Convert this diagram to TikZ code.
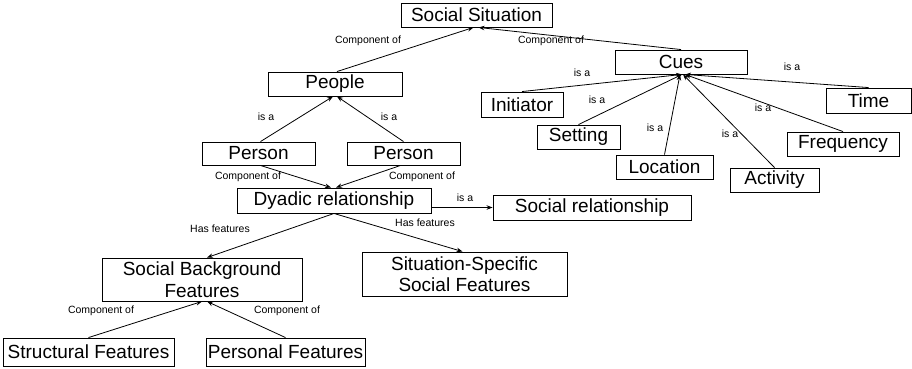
\documentclass[tikz,border=0pt]{standalone}
\usepackage{fontspec}
\setmainfont{Liberation Sans}
\usetikzlibrary{arrows.meta,calc}
\begin{document}
\begin{tikzpicture}[x=1pt,y=-1pt,
  box/.style={draw,line width=0.9pt,inner sep=0pt,align=center,
    font=\fontsize{19}{21.5}\selectfont},
  lbl/.style={inner sep=0pt,font=\fontsize{10.5}{12}\selectfont},
  arr/.style={line width=0.8pt,-{Stealth[length=6pt,width=4.5pt]}}]
\useasboundingbox (0,0) rectangle (912,368);
% nodes
\node[box,minimum width=151pt,minimum height=24pt] (ss) at (476.5,15) {Social Situation};
\node[box,minimum width=134pt,minimum height=24pt] (people) at (335,84) {People};
\node[box,minimum width=132pt,minimum height=24pt] (cues) at (681,62) {Cues};
\node[box,minimum width=82pt,minimum height=25pt] (init) at (522,104.5) {Initiator};
\node[box,minimum width=83pt,minimum height=24pt] (setting) at (578.5,137) {Setting};
\node[box,minimum width=97pt,minimum height=24pt] (location) at (664.5,167) {Location};
\node[box,minimum width=89pt,minimum height=24pt] (activity) at (774.5,180) {Activity};
\node[box,minimum width=112pt,minimum height=24pt] (freq) at (843,144) {Frequency};
\node[box,minimum width=85pt,minimum height=25pt] (time) at (868.5,100.5) {Time};
\node[box,minimum width=113pt,minimum height=23pt] (p1) at (258.5,153.5) {Person};
\node[box,minimum width=113pt,minimum height=23pt] (p2) at (403.5,153.5) {Person};
\node[box,minimum width=194pt,minimum height=25pt] (dyad) at (334,200.5) {Dyadic relationship};
\node[box,minimum width=198pt,minimum height=25pt] (socrel) at (592,207.5) {Social relationship};
\node[box,minimum width=200pt,minimum height=43pt] (sbf) at (202,279.5) {Social Background\\Features};
\node[box,minimum width=205pt,minimum height=44pt] (ssf) at (464.5,274) {Situation-Specific\\Social Features};
\node[box,minimum width=171pt,minimum height=28pt] (struct) at (88.5,352) {Structural Features};
\node[box,minimum width=159pt,minimum height=28pt] (pers) at (285.5,352) {Personal Features};
% connectors
\draw[arr] ($(people.north)+(2,0)$) -- ($(ss.south)+(-3,0)$);
\draw[arr] (cues.north) -- ($(ss.south)+(2,0)$);
\draw[arr] (init.north) -- ($(cues.south)+(1,0)$);
\draw[arr] (setting.north) -- ($(cues.south)+(1,0)$);
\draw[arr] (location.north) -- ($(cues.south)+(-1,0)$);
\draw[arr] (activity.north) -- ($(cues.south)+(2,0)$);
\draw[arr] (freq.north) -- ($(cues.south)+(4,0)$);
\draw[arr] (time.north) -- ($(cues.south)+(4,0)$);
\draw[arr] ($(p1.north)+(2,0)$) -- ($(people.south)+(-2,0)$);
\draw[arr] (p2.north) -- ($(people.south)+(2,0)$);
\draw[arr] ($(p1.south)+(2,0)$) -- ($(dyad.north)+(-3,0)$);
\draw[arr] ($(p2.south)+(-3,0)$) -- ($(dyad.north)+(2,0)$);
\draw[arr] (dyad.east |- socrel.west) -- (socrel.west);
\draw[arr] (dyad.south) -- ($(sbf.north)+(5,0)$);
\draw[arr] (dyad.south) -- ($(ssf.north)+(-2,0)$);
\draw[arr] (struct.north) -- (sbf.south);
\draw[arr] (pers.north) -- ($(sbf.south)+(5,0)$);
% labels
\node[lbl] (l1) at (368,41) {Component of};
\node[lbl] (l2) at (551,41) {Component of};
\node[lbl] (l3) at (582,73) {is a};
\node[lbl] (l4) at (597,100) {is a};
\node[lbl] (l5) at (655,128) {is a};
\node[lbl] (l6) at (730,134) {is a};
\node[lbl] (l7) at (763,108) {is a};
\node[lbl] (l8) at (792,67) {is a};
\node[lbl] (l9) at (266,117) {is a};
\node[lbl] (l10) at (389,117) {is a};
\node[lbl] (l11) at (248,177) {Component of};
\node[lbl] (l12) at (422,177) {Component of};
\node[lbl] (l13) at (465,198) {is a};
\node[lbl] (l14) at (220,229) {Has features};
\node[lbl] (l15) at (425,223) {Has features};
\node[lbl] (l16) at (101,311) {Component of};
\node[lbl] (l17) at (287,311) {Component of};
\end{tikzpicture}
\end{document}
